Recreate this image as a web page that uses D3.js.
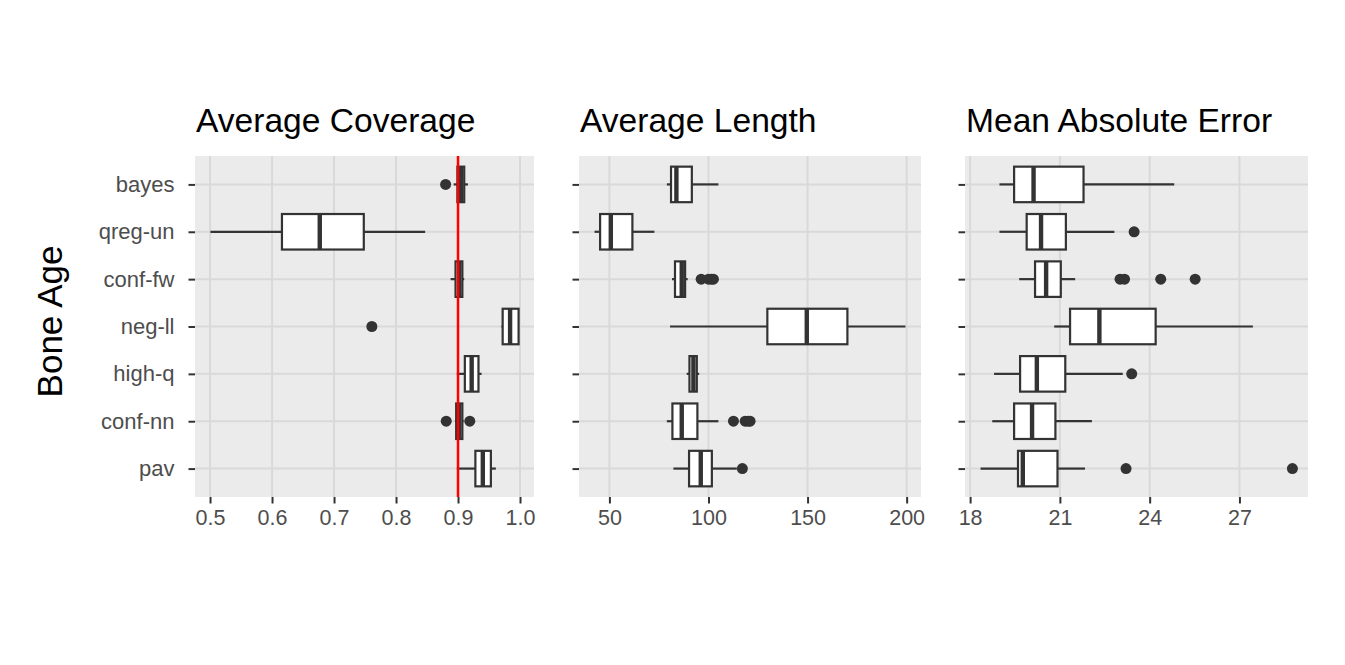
<!DOCTYPE html>
<html>
<head>
<meta charset="utf-8">
<script src="https://cdn.jsdelivr.net/npm/d3@7"></script>
<style>
  html, body { margin: 0; padding: 0; background: #ffffff; }
  svg { display: block; }
  text { font-family: "Liberation Sans", Arial, Helvetica, sans-serif; }
</style>
</head>
<body>
<svg id="chart" width="1345" height="665"></svg>
<script>
// ---------------- DATA ----------------
const categories = ["bayes", "qreg-un", "conf-fw", "neg-ll", "high-q", "conf-nn", "pav"];

// five-number boxplot summaries: [lower whisker, Q1, median, Q3, upper whisker]
const coverageStats = [
  [0.893, 0.899, 0.905, 0.910, 0.916],
  [0.5006, 0.616, 0.677, 0.748, 0.847],
  [0.888, 0.896, 0.902, 0.907, 0.910],
  [0.970, 0.972, 0.984, 0.9977, 0.9977],
  [0.898, 0.911, 0.922, 0.933, 0.938],
  [0.895, 0.897, 0.902, 0.907, 0.909],
  [0.898, 0.928, 0.940, 0.953, 0.961]
];
const coverageOutliers = [[0.880], [], [], [0.761], [], [0.881, 0.919], []];

const lengthStats = [
  [79.0, 81.1, 83.8, 91.6, 105.0],
  [42.5, 45.3, 50.7, 61.6, 72.7],
  [81.6, 83.1, 86.5, 88.2, 89.5],
  [80.6, 129.7, 149.6, 170.1, 199.4],
  [89.0, 90.4, 92.4, 94.1, 95.3],
  [79.0, 81.8, 86.5, 94.4, 105.0],
  [82.3, 90.2, 96.1, 101.7, 114.3]
];
const lengthOutliers = [[], [], [96.3, 100.0, 101.5, 102.5], [], [], [112.6, 118.5, 120.0, 121.0], [117.1]];

const maeStats = [
  [18.98, 19.47, 20.12, 21.79, 24.82],
  [18.98, 19.89, 20.37, 21.20, 22.82],
  [19.64, 20.17, 20.54, 21.03, 21.51],
  [20.81, 21.34, 22.32, 24.20, 27.45],
  [18.80, 19.67, 20.23, 21.18, 23.10],
  [18.74, 19.47, 20.07, 20.85, 22.07],
  [18.35, 19.60, 19.76, 20.92, 21.84]
];
const maeOutliers = [[], [23.48], [23.01, 23.16, 24.37, 25.52], [], [23.40], [], [23.21, 28.77]];

const panelTitles = ["Average Coverage", "Average Length", "Mean Absolute Error"];
const coverageTicks = [0.5, 0.6, 0.7, 0.8, 0.9, 1.0];
const lengthTicks = [50, 100, 150, 200];
const maeTicks = [18, 21, 24, 27];
const coverageTarget = 0.9;
const yAxisTitle = "Bone Age";

// ---------------- LAYOUT ----------------
const svg = d3.select("#chart");
const panelTop = 156, panelBottom = 497;
const panels = [
  { left: 195, right: 534, stats: coverageStats, outliers: coverageOutliers, ticks: coverageTicks, fmt: d3.format(".1f"), title: panelTitles[0], ref: coverageTarget, labels: true },
  { left: 579, right: 921, stats: lengthStats, outliers: lengthOutliers, ticks: lengthTicks, fmt: d3.format("d"), title: panelTitles[1], ref: null, labels: false },
  { left: 965, right: 1308, stats: maeStats, outliers: maeOutliers, ticks: maeTicks, fmt: d3.format("d"), title: panelTitles[2], ref: null, labels: false }
];

const bg = "#ebebeb", gridCol = "#d9d9d9", ink = "#333333", tickText = "#4d4d4d";

const y = d3.scalePoint().domain(categories).range([panelTop, panelBottom]).padding(0.6);
const boxH = y.step() * 0.75;

panels.forEach(p => {
  // data extent, expanded 5% like ggplot
  const vals = [];
  p.stats.forEach(s => vals.push(s[0], s[4]));
  p.outliers.forEach(o => vals.push(...o));
  const mn = d3.min(vals), mx = d3.max(vals), pad = (mx - mn) * 0.05;
  const x = d3.scaleLinear().domain([mn - pad, mx + pad]).range([p.left, p.right]);

  const g = svg.append("g");
  g.append("rect").attr("x", p.left).attr("y", panelTop)
    .attr("width", p.right - p.left).attr("height", panelBottom - panelTop).attr("fill", bg);

  // grid
  g.selectAll(".vg").data(p.ticks).enter().append("line")
    .attr("x1", d => x(d)).attr("x2", d => x(d)).attr("y1", panelTop).attr("y2", panelBottom)
    .attr("stroke", gridCol).attr("stroke-width", 2);
  g.selectAll(".hg").data(categories).enter().append("line")
    .attr("x1", p.left).attr("x2", p.right).attr("y1", d => y(d)).attr("y2", d => y(d))
    .attr("stroke", gridCol).attr("stroke-width", 2);

  // x axis
  const xAxis = d3.axisBottom(x).tickValues(p.ticks).tickFormat(p.fmt).tickSize(6.5).tickPadding(6);
  const xa = g.append("g").attr("transform", `translate(0,${panelBottom})`).call(xAxis);
  xa.select(".domain").remove();
  xa.selectAll(".tick line").attr("stroke", ink).attr("stroke-width", 2);
  xa.selectAll(".tick text").attr("fill", tickText).style("font-size", "21.5px")
    .style("font-family", "'Liberation Sans', Arial, sans-serif");

  // y axis
  const yAxis = d3.axisLeft(y).tickSize(6.5).tickPadding(14);
  const ya = g.append("g").attr("transform", `translate(${p.left},0)`).call(yAxis);
  ya.select(".domain").remove();
  ya.selectAll(".tick line").attr("stroke", ink).attr("stroke-width", 2);
  ya.selectAll(".tick text").attr("fill", tickText).style("font-size", "22px")
    .style("font-family", "'Liberation Sans', Arial, sans-serif");
  if (!p.labels) ya.selectAll(".tick text").remove();

  // boxes
  const rows = categories.map((c, i) => ({ c, s: p.stats[i], o: p.outliers[i] }));
  const bx = g.selectAll(".box").data(rows).enter().append("g");
  bx.append("line").attr("x1", d => x(d.s[0])).attr("x2", d => x(d.s[1]))
    .attr("y1", d => y(d.c)).attr("y2", d => y(d.c)).attr("stroke", ink).attr("stroke-width", 2.2);
  bx.append("line").attr("x1", d => x(d.s[3])).attr("x2", d => x(d.s[4]))
    .attr("y1", d => y(d.c)).attr("y2", d => y(d.c)).attr("stroke", ink).attr("stroke-width", 2.2);
  bx.append("rect").attr("x", d => x(d.s[1])).attr("width", d => x(d.s[3]) - x(d.s[1]))
    .attr("y", d => y(d.c) - boxH / 2).attr("height", boxH)
    .attr("fill", "#ffffff").attr("stroke", ink).attr("stroke-width", 2.2);
  bx.append("line").attr("x1", d => x(d.s[2])).attr("x2", d => x(d.s[2]))
    .attr("y1", d => y(d.c) - boxH / 2).attr("y2", d => y(d.c) + boxH / 2)
    .attr("stroke", ink).attr("stroke-width", 4.4);
  bx.each(function(d) {
    d3.select(this).selectAll("circle").data(d.o).enter().append("circle")
      .attr("cx", v => x(v)).attr("cy", y(d.c)).attr("r", 5.5).attr("fill", ink);
  });

  // reference line
  if (p.ref !== null) {
    g.append("line").attr("x1", x(p.ref)).attr("x2", x(p.ref))
      .attr("y1", panelTop).attr("y2", panelBottom)
      .attr("stroke", "#ff0000").attr("stroke-width", 2.5);
  }

  // title
  g.append("text").attr("x", p.left + 1).attr("y", 132).attr("fill", "#000")
    .style("font-size", "33.6px").text(p.title);
});

// y-axis title
svg.append("text").attr("transform", "translate(62,321.5) rotate(-90)")
  .attr("text-anchor", "middle").attr("fill", "#000").style("font-size", "35px").text(yAxisTitle);
</script>
</body>
</html>
